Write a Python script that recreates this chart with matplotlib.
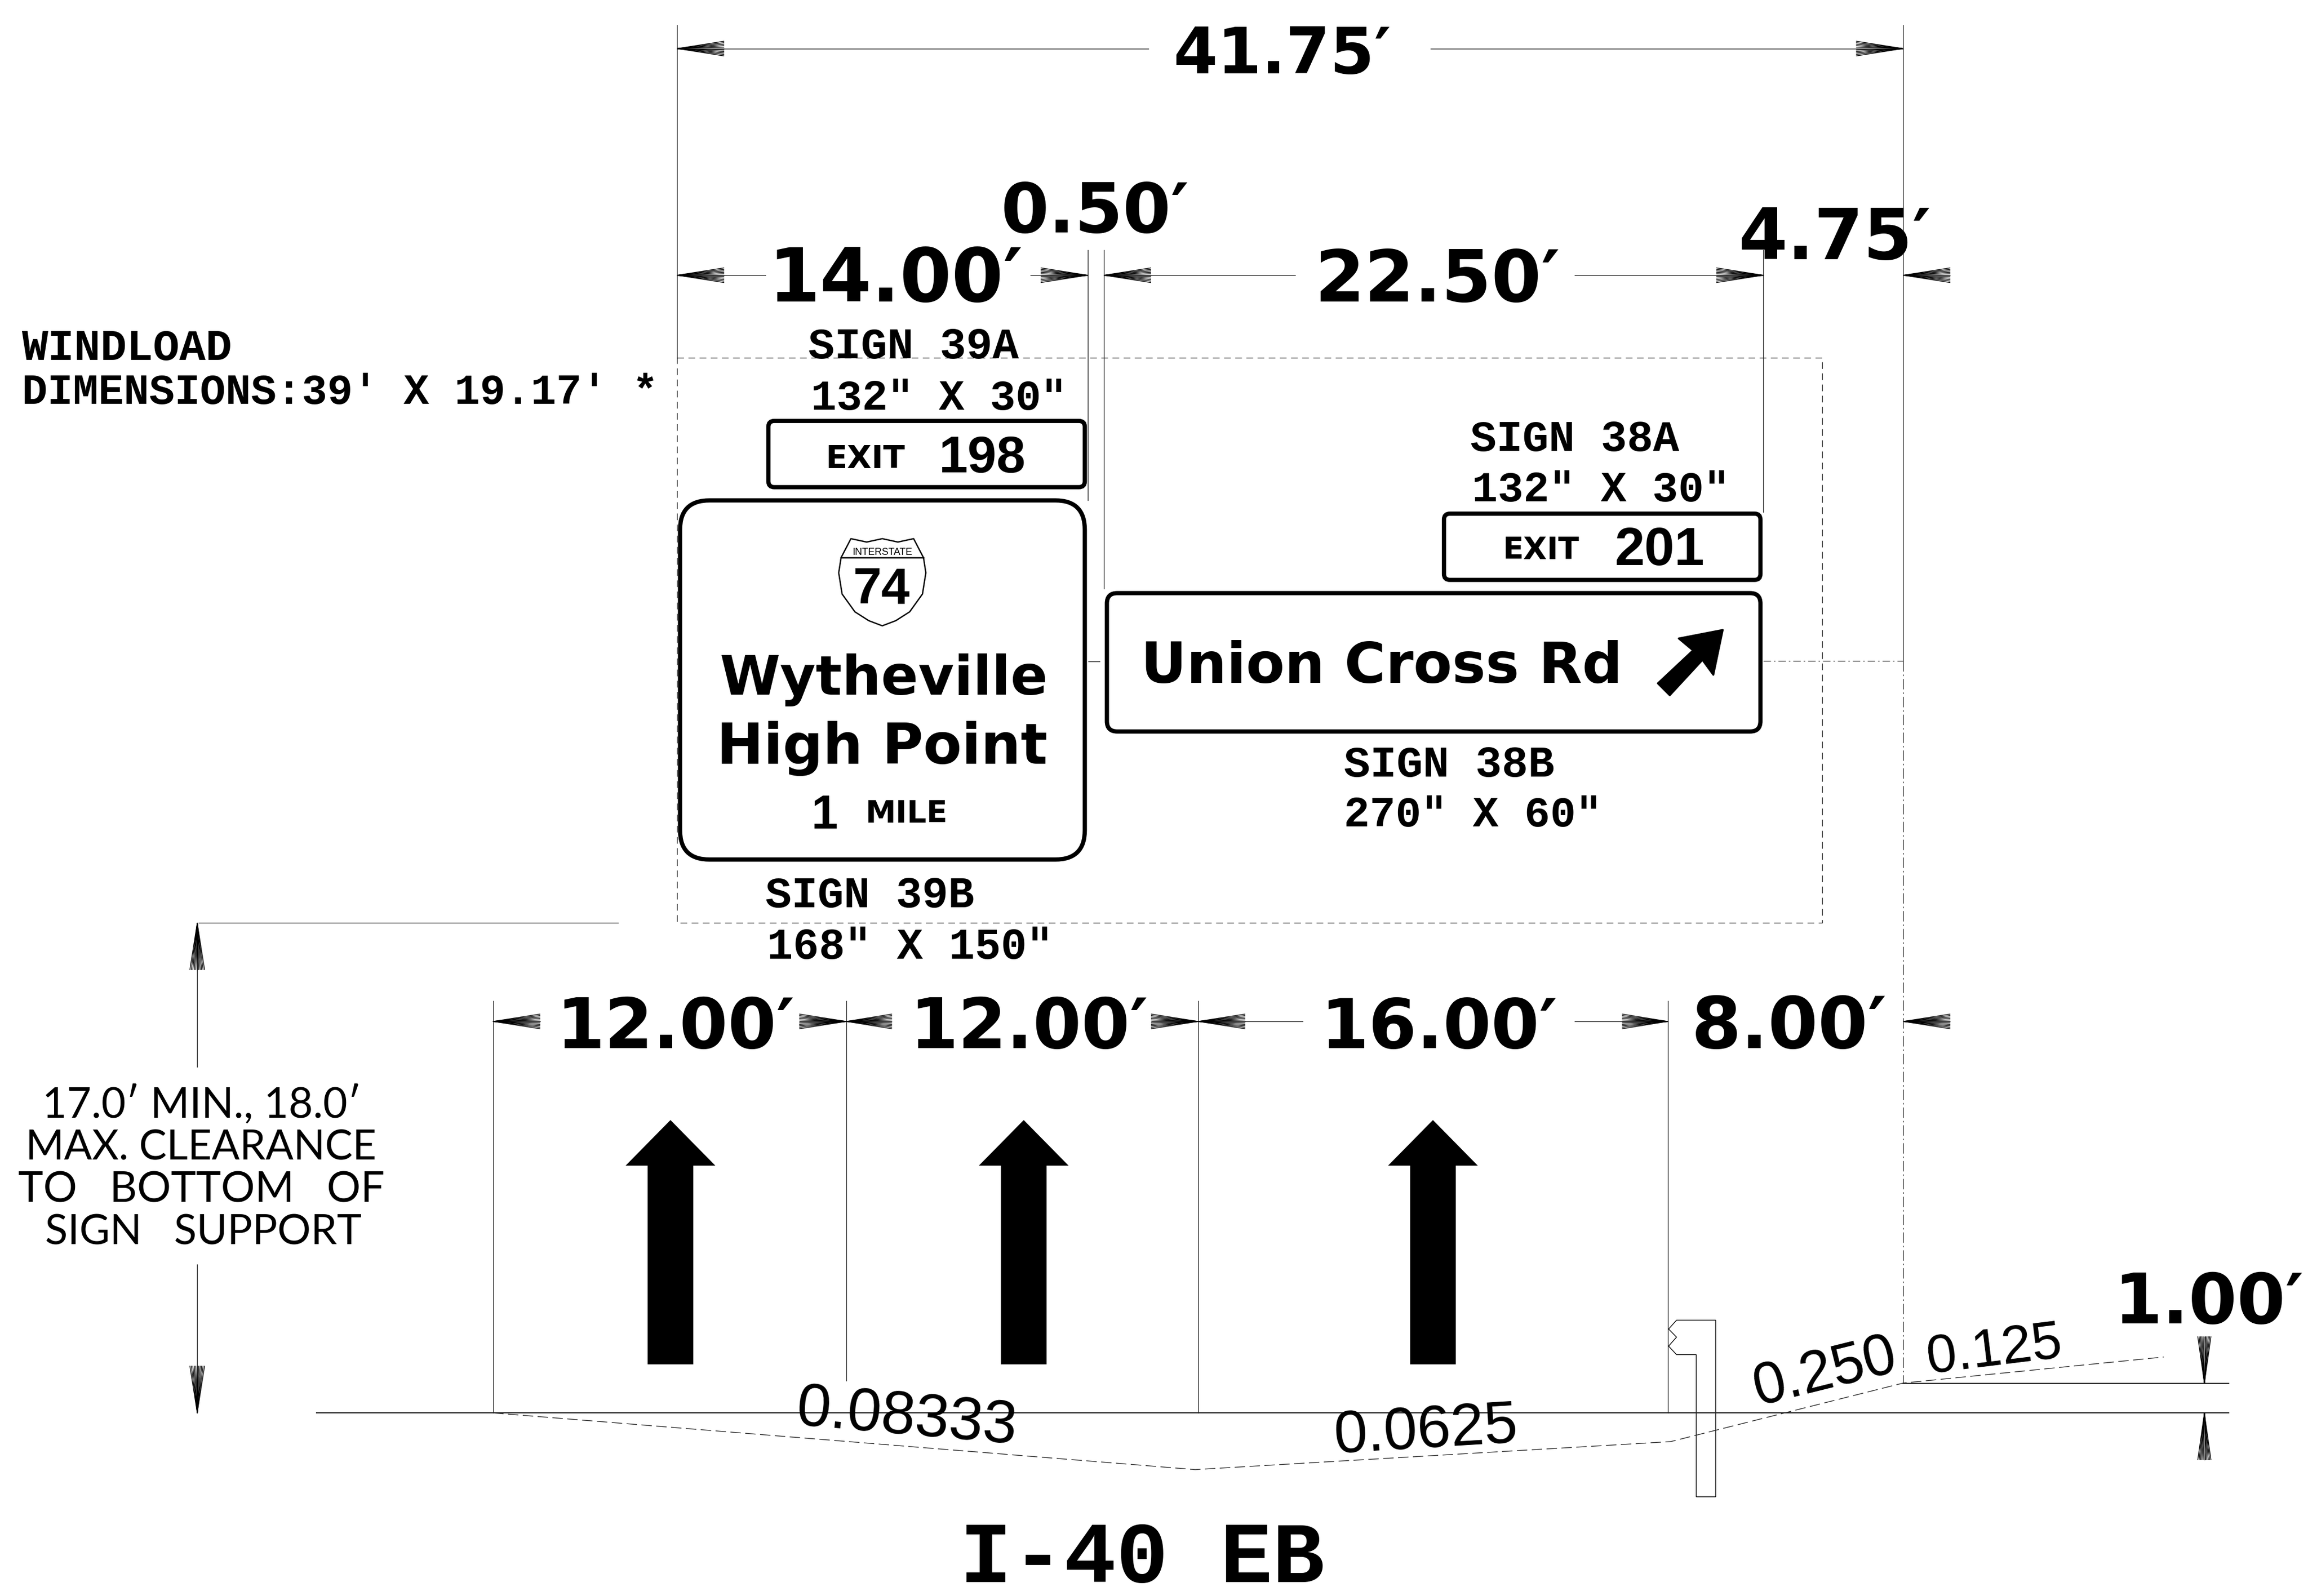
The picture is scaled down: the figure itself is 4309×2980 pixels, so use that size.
import matplotlib
matplotlib.use("Agg")
import matplotlib.pyplot as plt
import numpy as np
from matplotlib.patches import FancyBboxPatch, Polygon

W, H = 4309, 2980
SCALE = W / 1568  # coordinates below are on a 1568 wide sheet

LINE = "#222222"
SANS_BOLD = ["DejaVu Sans"]
MONO = ["Liberation Mono", "DejaVu Sans"]
SIGN_FONT = ["DejaVu Sans"]
DIGITS = ["Liberation Sans", "DejaVu Sans"]
ROUND = ["Lato", "DejaVu Sans"]

# thin extension lines: x, y0, y1
EXT_LINES = [
    (460, 17, 243), (1293, 17, 449), (739, 170, 340), (750, 170, 400),
    (1198, 170, 348), (335, 680, 960), (575, 680, 938), (814, 680, 960),
    (1133, 680, 960), (134, 627, 725), (134, 859, 960),
]
# dimension lines: y, x0, x1
DIM_LINES = [
    (33, 460, 780), (33, 972, 1293), (187, 460, 520), (187, 700, 739),
    (187, 750, 880), (187, 1070, 1198), (694, 846, 885), (694, 1070, 1133),
    (627, 135, 420), (960, 215, 1514), (940, 1293, 1514),
]
# horizontal arrowheads: y, tip x, tail x
H_ARROWS = [
    (33, 460, 492), (33, 1293, 1261), (187, 460, 492), (187, 739, 707),
    (187, 750, 782), (187, 1198, 1166), (187, 1293, 1325),
    (694, 335, 367), (694, 575, 543), (694, 575, 606), (694, 814, 782),
    (694, 814, 846), (694, 1133, 1102), (694, 1293, 1325),
]
# vertical arrowheads: x, tip y, tail y
V_ARROWS = [
    (134, 627, 659), (134, 960, 928), (1497.6, 940, 908), (1497.6, 960, 992),
]
# big lane arrows: centre x
LANE_ARROWS = [455.5, 695.5, 973.5]

WINDLOAD_BOX = [(460, 243), (1238, 243), (1238, 627), (460, 627), (460, 243)]
PROFILE_X = [335, 812, 1135, 1293, 1470]
PROFILE_Y = [960, 998.5, 979.5, 939.7, 922]
CENTER_X = [1293, 1293]
CENTER_Y = [449, 940]
CENTER2_X = [1198, 1293]
CENTER2_Y = [449, 449]
CURB = [
    (1139, 897), (1133.6, 903), (1139, 908.5), (1133.6, 914.6), (1139, 920.4),
    (1152.4, 920.4), (1152.4, 1017), (1165.6, 1017), (1165.6, 897),
]

# signs: x0, y0, x1, y1, corner radius
SIGNS = [
    (522, 286, 737, 331, 4), (462, 340, 737, 584, 20),
    (981, 349, 1196, 394, 4), (752, 403, 1196, 497, 7),
]
SHIELD = [
    (578.1, 366), (588.8, 368.3), (599.4, 366), (610, 368.3), (620.7, 366),
    (627.4, 378.9), (629, 389.2), (626.7, 403.6), (618, 415.7), (608.6, 421.7),
    (599.4, 425.2), (590.2, 421.7), (580.8, 415.7), (572.1, 403.6),
    (569.8, 389.2), (571.4, 378.9),
]
EXIT_ARROW = [
    (1170.4, 428), (1164, 458.5), (1156.6, 448.4), (1134.4, 472.4), (1126.3, 464.3),
    (1150.2, 441.9), (1140.5, 433.8),
]

# text: string, x0, x1, baseline y
DIM_TEXT = [
    ("41.75\u2032", 797, 945, 50), ("0.50\u2032", 680, 808, 158),
    ("14.00\u2032", 522, 695, 205), ("22.50\u2032", 893, 1060, 205),
    ("4.75\u2032", 1181, 1312, 176), ("12.00\u2032", 378, 540, 712),
    ("12.00\u2032", 618, 780, 712), ("16.00\u2032", 897, 1058, 712),
    ("8.00\u2032", 1149, 1282, 712), ("1.00\u2032", 1436, 1565, 899),
]
NOTE_TEXT = [
    ("SIGN 39A", 549, 692, 243.5), ("132\u2033 X 30\u2033", 551, 725, 278.5),
    ("SIGN 38A", 999, 1141, 306.5), ("132\u2033 X 30\u2033", 1000, 1175, 340.5),
    ("SIGN 38B", 913, 1056, 527.5), ("270\u2033 X 60\u2033", 913, 1088, 561.5),
    ("SIGN 39B", 520, 662, 616.5), ("168\u2033 X 150\u2033", 521, 715, 651.5),
    ("WINDLOAD", 15, 158, 244.5), ("DIMENSIONS:39\u2032 X 19.17\u2032 *", 15, 447, 274.5),
    ("I-40 EB", 652, 900, 1075),
]
SIGN_TEXT = [
    ("EXIT", 561, 615, 318), ("EXIT", 1021, 1073, 380),
    ("Wytheville", 489, 712, 472), ("High Point", 487, 712, 519),
    ("MILE", 588, 644, 559), ("Union Cross Rd", 775, 1102, 464),
]
DIGIT_TEXT = [
    ("198", 638, 697, 321), ("201", 1097, 1158, 384),
    ("1", 551, 569, 563), ("74", 579.8, 618.4, 410),
    ("INTERSTATE", 579, 620, 377),
]
CLEARANCE_TEXT = [
    ("17.0\u2032 MIN., 18.0\u2032", 28.8, 245.5, 759), ("MAX. CLEARANCE", 17.6, 256, 788),
    ("TO   BOTTOM   OF", 12.4, 261, 816.6), ("SIGN   SUPPORT", 30.6, 246, 845.5),
]
# slope labels: string, centre x, centre y, length, rotation
SLOPE_TEXT = [
    ("0.08333", 616, 964, 150, -5), ("0.0625", 969, 973, 125, 3.5),
    ("0.250", 1240, 933, 99, 14), ("0.125", 1355, 918, 92, 7),
]

fig = plt.figure(figsize=(W / 100, H / 100), dpi=100)
ax = fig.add_axes([0, 0, 1, 1])
ax.set_xlim(0, 1568)
ax.set_ylim(H / SCALE, 0)
ax.axis("off")
renderer = fig.canvas.get_renderer()


def fit_size(txt, width):
    # scale the font so the string spans the wanted sheet width
    txt.set_fontsize(100)
    measured = txt.get_window_extent(renderer).width / SCALE
    txt.set_fontsize(100 * width / measured)


def put(s, x0, x1, y, family, weight="normal"):
    txt = ax.text(x0, y, s, family=family, weight=weight, ha="left", va="baseline", color="black")
    fit_size(txt, x1 - x0)
    return txt


def fan(tip, tail_a, tail_b):
    # the CAD arrowheads are fans of fine lines, solid at the tip and hatched at the tail
    for f in np.linspace(0, 1, 11):
        end = (tail_a[0] + f * (tail_b[0] - tail_a[0]), tail_a[1] + f * (tail_b[1] - tail_a[1]))
        ax.plot([tip[0], end[0]], [tip[1], end[1]], color="black", lw=1.0, solid_capstyle="butt")


for x, y0, y1 in EXT_LINES:
    ax.plot([x, x], [y0, y1], color=LINE, lw=1.0)
for y, x0, x1 in DIM_LINES:
    ax.plot([x0, x1], [y, y], color=LINE, lw=1.5 if y in (940, 960) else 1.0)

for y, tip, tail in H_ARROWS:
    fan((tip, y), (tail, y - 5), (tail, y + 5))
for x, tip, tail in V_ARROWS:
    half = 5 if x < 1000 else 4.5
    fan((x, tip), (x - half, tail), (x + half, tail))

for x in LANE_ARROWS:
    ax.add_patch(Polygon(
        [(x, 761), (x + 30.5, 792), (x + 15.5, 792), (x + 15.5, 927),
         (x - 15.5, 927), (x - 15.5, 792), (x - 30.5, 792)],
        fc="black", ec="none",
    ))

ax.plot(*zip(*WINDLOAD_BOX), color=LINE, lw=1.0, ls=(0, (9, 6)))
ax.plot(PROFILE_X, PROFILE_Y, color=LINE, lw=1.0, ls=(0, (14, 6)))
ax.plot(CENTER_X, CENTER_Y, color=LINE, lw=1.0, ls=(0, (14, 4, 2, 4)))
ax.plot(CENTER2_X, CENTER2_Y, color=LINE, lw=1.0, ls=(0, (10, 4, 2, 4)))
ax.plot([739.6, 747], [449.5, 449.5], color=LINE, lw=1.0)
ax.add_patch(Polygon(CURB, closed=True, fc="none", ec="black", lw=1.0))

for x0, y0, x1, y1, r in SIGNS:
    ax.add_patch(FancyBboxPatch(
        (x0, y0), x1 - x0, y1 - y0, boxstyle=f"round,pad=0,rounding_size={r}",
        fc="white", ec="black", lw=5.7,
    ))
ax.add_patch(Polygon(SHIELD, closed=True, fc="white", ec="black", lw=1.8, joinstyle="round"))
ax.plot([571.4, 627.4], [378.9, 378.9], color="black", lw=1.8)
ax.add_patch(Polygon(EXIT_ARROW, closed=True, fc="black", ec="black", lw=2.5, joinstyle="round"))

for s, x0, x1, y in DIM_TEXT:
    put(s, x0, x1, y, SANS_BOLD, "bold")
for s, x0, x1, y in NOTE_TEXT:
    put(s, x0, x1, y, MONO, "bold")
for s, x0, x1, y in SIGN_TEXT:
    put(s, x0, x1, y, SIGN_FONT, "bold")
for s, x0, x1, y in DIGIT_TEXT:
    put(s, x0, x1, y, DIGITS, "bold" if s != "INTERSTATE" else "normal")
for s, x0, x1, y in CLEARANCE_TEXT:
    put(s, x0, x1, y, ROUND)
for s, cx, cy, length, rot in SLOPE_TEXT:
    txt = ax.text(cx, cy, s, family=DIGITS, ha="center", va="center", color="black")
    fit_size(txt, length)
    txt.set_rotation(rot)
    txt.set_rotation_mode("anchor")

fig.savefig("out.png", dpi=100)
